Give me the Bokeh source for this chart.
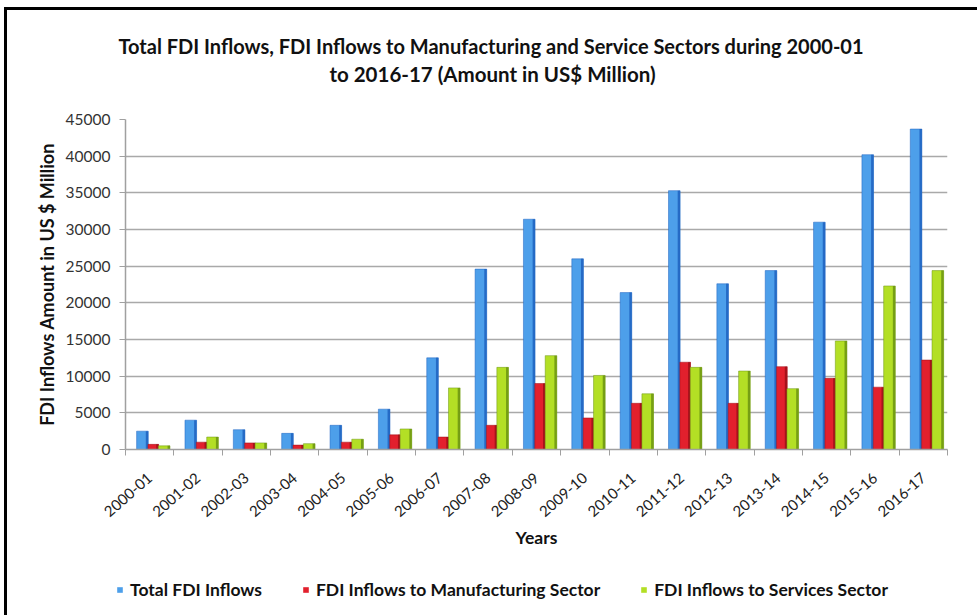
from bokeh.plotting import figure
from bokeh.layouts import column
from bokeh.models import (Range1d, FixedTicker, SingleIntervalTicker, Label, Legend,
                          LegendItem, ColumnDataSource)
from bokeh.transform import dodge
from bokeh.embed import file_html
from bokeh.resources import INLINE

years = ["2000-01", "2001-02", "2002-03", "2003-04", "2004-05", "2005-06", "2006-07",
         "2007-08", "2008-09", "2009-10", "2010-11", "2011-12", "2012-13", "2013-14",
         "2014-15", "2015-16", "2016-17"]
total_fdi = [2500, 4000, 2700, 2200, 3300, 5500, 12500, 24600, 31400, 26000, 21400,
             35300, 22600, 24400, 31000, 40200, 43700]
manufacturing = [700, 1000, 900, 600, 1000, 2000, 1700, 3300, 9000, 4300, 6300,
                 11900, 6300, 11300, 9700, 8500, 12200]
services = [500, 1700, 900, 800, 1400, 2800, 8400, 11200, 12800, 10100, 7600,
            11200, 10700, 8300, 14800, 22300, 24400]

title_line1 = "Total FDI Inflows, FDI Inflows to Manufacturing and Service Sectors during 2000-01"
title_line2 = "to 2016-17 (Amount in US$ Million)"
series_names = ["Total FDI Inflows", "FDI Inflows to Manufacturing Sector",
                "FDI Inflows to Services Sector"]

FONT = "Lato"
W = 970
centers = [i + 0.5 for i in range(len(years))]
bounds = list(range(len(years) + 1))
src = ColumnDataSource(dict(x=centers, total=total_fdi, manu=manufacturing, serv=services))

specs = [("total", -0.15, 0.24, "#4d9fea", "#1f62c0"),
         ("manu", 0.075, 0.22, "#e2202d", "#9c0f18"),
         ("serv", 0.30, 0.24, "#b3df25", "#6b9412")]


def blank(height):
    f = figure(width=W, height=height, x_range=Range1d(0, 1), y_range=Range1d(0, 1),
               x_axis_location=None, y_axis_location=None, min_border=0,
               output_backend="svg", toolbar_location=None)
    f.outline_line_color = None
    f.grid.grid_line_color = None
    f.frame_align = False
    return f


# ---- title strip ----
tf = blank(100)
for txt, xx, yy, fs in [(title_line1, 483.5, 65, "20px"), (title_line2, 485, 37, "20.5px")]:
    tf.add_layout(Label(x=xx, y=yy, x_units="screen", y_units="screen", text=txt,
                        text_align="center", text_baseline="middle", text_font=FONT,
                        text_font_style="bold", text_font_size=fs, text_color="#111111"))

# ---- main chart ----
p = figure(width=W, height=455, x_range=Range1d(0, len(years)), y_range=Range1d(0, 45000),
           output_backend="svg", toolbar_location=None,
           min_border_left=118, min_border_right=30, min_border_top=9, min_border_bottom=116)
p.outline_line_color = None
p.frame_align = False

for col, off, w, c, dark in specs:
    p.vbar(x=dodge("x", off, range=p.x_range), top=col, width=w, source=src,
           fill_color=c, line_color=dark, line_width=0.5)
    p.vbar(x=dodge("x", off + w / 2 - 0.025, range=p.x_range), top=col, width=0.05,
           source=src, fill_color=dark, line_color=None, fill_alpha=0.85)

p.xgrid.grid_line_color = None
p.ygrid.grid_line_color = "#a9a9a9"
p.ygrid.grid_line_width = 1.5

ya = p.yaxis[0]
ya.ticker = SingleIntervalTicker(interval=5000, num_minor_ticks=0)
ya.axis_line_color = "#a0a0a0"
ya.axis_line_width = 1.5
ya.major_tick_line_color = "#a0a0a0"
ya.major_tick_out = 6
ya.major_tick_in = 0
ya.minor_tick_line_color = None
ya.major_label_text_font = FONT
ya.major_label_text_font_size = "15.5px"
ya.major_label_text_color = "#333333"
ya.major_label_standoff = 9
ya.axis_label = "FDI Inflows Amount in US $ Million"
ya.axis_label_text_font = FONT
ya.axis_label_text_font_style = "bold"
ya.axis_label_text_font_size = "18px"
ya.axis_label_text_color = "#111111"
ya.axis_label_standoff = 5

xa = p.xaxis[0]
xa.ticker = FixedTicker(ticks=centers, minor_ticks=bounds)
xa.major_label_overrides = {c: y for c, y in zip(centers, years)}
xa.major_tick_line_color = None
xa.minor_tick_line_color = "#a0a0a0"
xa.minor_tick_out = 6
xa.minor_tick_in = 0
xa.axis_line_color = "#a0a0a0"
xa.axis_line_width = 1.5
xa.major_label_orientation = 0.72
xa.major_label_text_font = FONT
xa.major_label_text_font_size = "15px"
xa.major_label_text_color = "#222222"
xa.major_label_standoff = 20
xa.axis_label = "Years"
xa.axis_label_text_font = FONT
xa.axis_label_text_font_style = "bold"
xa.axis_label_text_font_size = "17.5px"
xa.axis_label_text_color = "#111111"
xa.axis_label_standoff = 2

# ---- legend strip ----
lf = blank(50)
items = []
for (col, off, w, c, dark), name in zip(specs, series_names):
    r = lf.vbar(x=[-10], top=[0], width=0.1, fill_color=c, line_color=None)
    items.append(LegendItem(label=name, renderers=[r]))
legend = Legend(items=items, orientation="horizontal", location=(109, 15),
                glyph_width=7, glyph_height=7, label_standoff=7, spacing=40, padding=0,
                margin=0, border_line_color=None, background_fill_alpha=0,
                label_text_font=FONT, label_text_font_style="bold",
                label_text_font_size="17.5px", label_text_color="#111111")
lf.add_layout(legend)

layout = column(tf, p, lf, spacing=0,
                styles={"border-left": "3px solid #000", "border-top": "3px solid #000",
                        "margin-left": "4px", "margin-top": "7px"})

open("out.html", "w").write(file_html(layout, INLINE))
